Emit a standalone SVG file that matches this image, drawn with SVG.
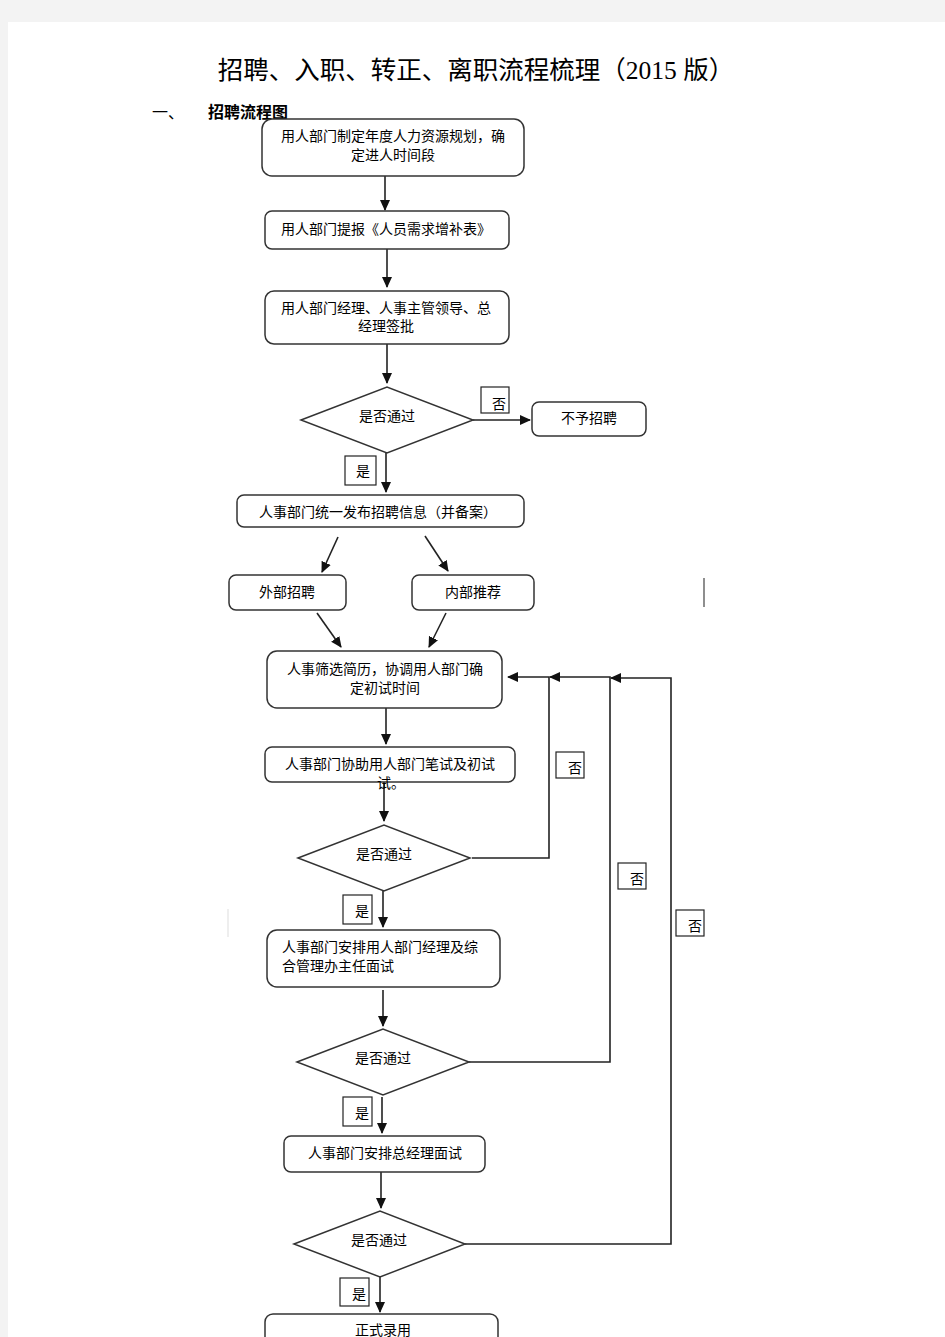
<svg xmlns="http://www.w3.org/2000/svg" width="945" height="1337" viewBox="0 0 945 1337">
<style>
.bg{fill:#f3f3f3}
.page{fill:#ffffff}
.box{fill:#ffffff;stroke:#333;stroke-width:1.5}
.lbl{fill:#ffffff;stroke:#222;stroke-width:1.2}
.t{font-family:"Noto Sans CJK SC","Liberation Sans",sans-serif;font-size:14px;fill:#000}
.tm{text-anchor:middle}
.title{font-family:"Liberation Serif","Noto Sans CJK SC",serif;font-size:25.5px;fill:#000;text-anchor:middle}
.sub{font-family:"Noto Sans CJK SC","Liberation Sans",sans-serif;font-size:16px;font-weight:bold;fill:#000}
.c{fill:none;stroke:#222;stroke-width:1.6}
</style>
<defs>
<marker id="ah" markerWidth="11" markerHeight="11" refX="10" refY="5.5" orient="auto" markerUnits="userSpaceOnUse">
<path d="M0,0.5 L11,5.5 L0,10.5 Z" fill="#111"/>
</marker>
</defs>
<rect class="bg" x="0" y="0" width="945" height="1337"/>
<rect class="page" x="8" y="22" width="937" height="1315"/>
<text class="title" x="476" y="79">招聘、入职、转正、离职流程梳理（2015 版）</text>
<text class="sub" x="152" y="118" style="font-weight:normal">一、</text>
<text class="sub" x="208" y="118">招聘流程图</text>

<g id="connectors">
<line class="c" x1="385" y1="176" x2="385" y2="210" marker-end="url(#ah)"/>
<line class="c" x1="387" y1="249" x2="387" y2="287" marker-end="url(#ah)"/>
<line class="c" x1="387" y1="344" x2="387" y2="383" marker-end="url(#ah)"/>
<line class="c" x1="473" y1="420" x2="530" y2="420" marker-end="url(#ah)"/>
<line class="c" x1="386" y1="453" x2="386" y2="492" marker-end="url(#ah)"/>
<line class="c" x1="338" y1="537" x2="322" y2="572" marker-end="url(#ah)"/>
<line class="c" x1="425" y1="536" x2="448" y2="571" marker-end="url(#ah)"/>
<line class="c" x1="317" y1="613" x2="341" y2="647" marker-end="url(#ah)"/>
<line class="c" x1="446" y1="613" x2="429" y2="647" marker-end="url(#ah)"/>
<line class="c" x1="386" y1="708" x2="386" y2="744" marker-end="url(#ah)"/>
<line class="c" x1="384" y1="782" x2="384" y2="821" marker-end="url(#ah)"/>
<polyline class="c" points="472,858 549,858 549,677 508,677" marker-end="url(#ah)"/>
<line class="c" x1="383" y1="891" x2="383" y2="927" marker-end="url(#ah)"/>
<line class="c" x1="383" y1="990" x2="383" y2="1026" marker-end="url(#ah)"/>
<polyline class="c" points="469,1062 610,1062 610,677 550,677" marker-end="url(#ah)"/>
<line class="c" x1="382" y1="1097" x2="382" y2="1133" marker-end="url(#ah)"/>
<line class="c" x1="381" y1="1172" x2="381" y2="1208" marker-end="url(#ah)"/>
<polyline class="c" points="465,1244 671,1244 671,678 611,678" marker-end="url(#ah)"/>
<line class="c" x1="380" y1="1277" x2="380" y2="1312" marker-end="url(#ah)"/>
<line x1="704" y1="578" x2="704" y2="607" stroke="#444" stroke-width="1.2"/>
<line x1="228" y1="909" x2="228" y2="937" stroke="#ddd" stroke-width="1"/>
</g>

<g id="n1"><rect class="box" x="262" y="119" width="262" height="57" rx="10"/>
<text class="t tm" x="393" y="141">用人部门制定年度人力资源规划，确</text>
<text class="t tm" x="393" y="160">定进人时间段</text></g>

<g id="n2"><rect class="box" x="265" y="211" width="244" height="38" rx="7"/>
<text class="t tm" x="386" y="234">用人部门提报《人员需求增补表》</text></g>

<g id="n3"><rect class="box" x="265" y="291" width="244" height="53" rx="9"/>
<text class="t tm" x="386" y="313">用人部门经理、人事主管领导、总</text>
<text class="t tm" x="386" y="331">经理签批</text></g>

<g id="d1"><polygon class="box" points="301,420 387,387 473,420 387,453"/>
<text class="t tm" x="387" y="421">是否通过</text></g>
<g id="l1"><rect class="lbl" x="481" y="387" width="28" height="26"/>
<text class="t" x="492" y="409">否</text></g>
<g id="n4"><rect class="box" x="532" y="402" width="114" height="34" rx="7"/>
<text class="t tm" x="589" y="423">不予招聘</text></g>
<g id="l2"><rect class="lbl" x="345" y="456" width="31" height="29"/>
<text class="t" x="356" y="476">是</text></g>

<g id="n5"><rect class="box" x="237" y="495" width="287" height="32" rx="7"/>
<text class="t tm" x="378" y="517">人事部门统一发布招聘信息（并备案）</text></g>

<g id="n6"><rect class="box" x="229" y="575" width="117" height="35" rx="7"/>
<text class="t tm" x="287" y="597">外部招聘</text></g>
<g id="n7"><rect class="box" x="412" y="575" width="122" height="35" rx="7"/>
<text class="t tm" x="473" y="597">内部推荐</text></g>

<g id="n8"><rect class="box" x="267" y="651" width="235" height="57" rx="10"/>
<text class="t tm" x="385" y="674">人事筛选简历，协调用人部门确</text>
<text class="t tm" x="385" y="693">定初试时间</text></g>

<g id="n9"><rect class="box" x="265" y="747" width="250" height="35" rx="7"/>
<text class="t tm" x="390" y="769">人事部门协助用人部门笔试及初试</text>
<text class="t" x="377" y="788">试。</text></g>

<g id="d2"><polygon class="box" points="298,858 384,825 470,858 384,891"/>
<text class="t tm" x="384" y="859">是否通过</text></g>
<g id="l3"><rect class="lbl" x="556" y="752" width="28" height="26"/>
<text class="t" x="568" y="773">否</text></g>
<g id="l4"><rect class="lbl" x="343" y="895" width="29" height="29"/>
<text class="t" x="355" y="916">是</text></g>

<g id="n10"><rect class="box" x="267" y="930" width="233" height="57" rx="10"/>
<text class="t" x="282" y="952">人事部门安排用人部门经理及综</text>
<text class="t" x="282" y="971">合管理办主任面试</text></g>

<g id="d3"><polygon class="box" points="297,1062 383,1029 469,1062 383,1095"/>
<text class="t tm" x="383" y="1063">是否通过</text></g>
<g id="l5"><rect class="lbl" x="618" y="863" width="28" height="26"/>
<text class="t" x="630" y="884">否</text></g>
<g id="l6"><rect class="lbl" x="343" y="1097" width="29" height="29"/>
<text class="t" x="355" y="1118">是</text></g>

<g id="n11"><rect class="box" x="284" y="1136" width="201" height="36" rx="7"/>
<text class="t tm" x="385" y="1158">人事部门安排总经理面试</text></g>

<g id="d4"><polygon class="box" points="294,1244 380,1211 465,1244 380,1277"/>
<text class="t tm" x="379" y="1245">是否通过</text></g>
<g id="l7"><rect class="lbl" x="676" y="910" width="28" height="26"/>
<text class="t" x="688" y="931">否</text></g>
<g id="l8"><rect class="lbl" x="340" y="1278" width="29" height="28"/>
<text class="t" x="352" y="1299">是</text></g>

<g id="n12"><rect class="box" x="265" y="1314" width="233" height="50" rx="8"/>
<text class="t tm" x="383" y="1335">正式录用</text></g>
</svg>
